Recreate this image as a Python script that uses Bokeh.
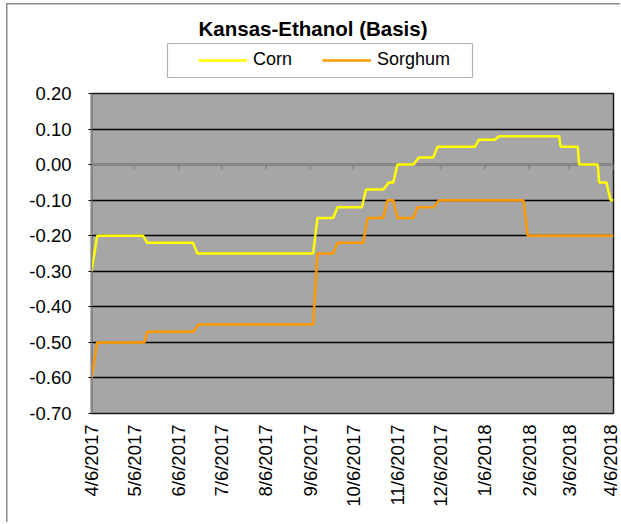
import math
import pandas as pd
from bokeh.plotting import figure
from bokeh.layouts import column
from bokeh.models import (Range1d, FixedTicker, NumeralTickFormatter, Span, Legend,
                          LegendItem, ColumnDataSource, Label, BoxAnnotation)
from bokeh.embed import file_html
from bokeh.resources import INLINE

# ---------------- data ----------------
corn_dates = ["2017-04-06", "2017-04-10", "2017-05-12", "2017-05-15", "2017-06-16", "2017-06-19",
              "2017-09-08", "2017-09-11", "2017-09-22", "2017-09-25", "2017-10-12", "2017-10-15",
              "2017-10-27", "2017-10-31", "2017-11-03", "2017-11-06", "2017-11-17", "2017-11-21",
              "2017-12-01", "2017-12-04", "2017-12-30", "2018-01-02", "2018-01-13", "2018-01-16",
              "2018-02-27", "2018-02-28", "2018-03-12", "2018-03-13", "2018-03-26", "2018-03-27",
              "2018-04-01", "2018-04-04", "2018-04-06"]
corn_values = [-0.30, -0.20, -0.20, -0.22, -0.22, -0.25,
               -0.25, -0.15, -0.15, -0.12, -0.12, -0.07,
               -0.07, -0.05, -0.05, 0.00, 0.00, 0.02,
               0.02, 0.05, 0.05, 0.07, 0.07, 0.08,
               0.08, 0.05, 0.05, 0.00, 0.00, -0.05,
               -0.05, -0.10, -0.10]

sorghum_dates = ["2017-04-06", "2017-04-10", "2017-05-13", "2017-05-15", "2017-06-16", "2017-06-20",
                 "2017-09-08", "2017-09-11", "2017-09-22", "2017-09-25", "2017-10-13", "2017-10-16",
                 "2017-10-27", "2017-10-30", "2017-11-03", "2017-11-06", "2017-11-17", "2017-11-20",
                 "2017-12-01", "2017-12-05", "2018-02-02", "2018-02-05", "2018-04-06"]
sorghum_values = [-0.60, -0.50, -0.50, -0.47, -0.47, -0.45,
                  -0.45, -0.25, -0.25, -0.22, -0.22, -0.15,
                  -0.15, -0.10, -0.10, -0.15, -0.15, -0.12,
                  -0.12, -0.10, -0.10, -0.20, -0.20]

tick_dates = ["2017-04-06", "2017-05-06", "2017-06-06", "2017-07-06", "2017-08-06", "2017-09-06",
              "2017-10-06", "2017-11-06", "2017-12-06", "2018-01-06", "2018-02-06", "2018-03-06",
              "2018-04-06"]
tick_labels = ["4/6/2017", "5/6/2017", "6/6/2017", "7/6/2017", "8/6/2017", "9/6/2017",
               "10/6/2017", "11/6/2017", "12/6/2017", "1/6/2018", "2/6/2018", "3/6/2018",
               "4/6/2018"]
y_ticks = [-0.7, -0.6, -0.5, -0.4, -0.3, -0.2, -0.1, 0.0, 0.1, 0.2]

title_text = "Kansas-Ethanol (Basis)"
series_names = ["Corn", "Sorghum"]
series_colors = ["#FFFF00", "#FF9900"]

FONT = "Liberation Sans"
W = 620
HEAD_H = 82
MAIN_H = 440
LEFT = 91
RIGHT = 7

# ---------------- header (title + legend) ----------------
# header x data units are page pixels, same frame edges as the chart below
head = figure(width=W, height=HEAD_H, output_backend="svg", toolbar_location=None,
              x_range=Range1d(LEFT, W - RIGHT), y_range=Range1d(0, HEAD_H),
              x_axis_location=None, y_axis_location=None,
              min_border_left=LEFT, min_border_right=RIGHT,
              min_border_top=0, min_border_bottom=0,
              background_fill_color=None, border_fill_color=None)
head.outline_line_color = None
head.grid.visible = False

head.add_layout(Label(x=312.5, y=HEAD_H - 28, text=title_text, text_align="center",
                      text_baseline="middle", text_font=FONT, text_font_size="20.5px",
                      text_font_style="bold", text_color="black"))

head.add_layout(BoxAnnotation(left=167, right=472, bottom=HEAD_H - 77, top=HEAD_H - 43,
                              fill_color="white", fill_alpha=1.0,
                              line_color="black", line_width=1.2))

# legend proxies (not drawn: a single NaN point)
lc = head.line(x=[float("nan")], y=[float("nan")], line_color=series_colors[0], line_width=2.5)
ls = head.line(x=[float("nan")], y=[float("nan")], line_color=series_colors[1], line_width=2.5)
legend = Legend(items=[LegendItem(label=series_names[0], renderers=[lc]),
                       LegendItem(label=series_names[1], renderers=[ls])],
                orientation="horizontal", location=(198 - LEFT, HEAD_H - 70), padding=0, margin=0,
                spacing=30, glyph_width=49, glyph_height=20, label_height=20,
                label_standoff=6, border_line_color=None, background_fill_alpha=0,
                label_text_font=FONT, label_text_font_size="18px", label_text_color="black")
head.add_layout(legend)

# ---------------- main chart ----------------
tick_dt = pd.to_datetime(tick_dates)
tick_ms = [int(t.value // 10**6) for t in tick_dt]

p = figure(width=W, height=MAIN_H, x_axis_type="datetime", output_backend="svg",
           toolbar_location=None,
           x_range=Range1d(start=tick_dt[0], end=tick_dt[-1]),
           y_range=Range1d(start=y_ticks[0], end=y_ticks[-1]),
           min_border_left=LEFT, min_border_right=RIGHT, min_border_top=11, min_border_bottom=109,
           background_fill_color="#A6A6A6", border_fill_color=None)

p.outline_line_color = "#1a1a1a"
p.outline_line_width = 1.5

p.xgrid.grid_line_color = None
p.ygrid.ticker = FixedTicker(ticks=y_ticks)
p.ygrid.grid_line_color = "black"
p.ygrid.grid_line_width = 1.4

p.yaxis.ticker = FixedTicker(ticks=y_ticks)
p.yaxis.formatter = NumeralTickFormatter(format="0.00")
p.yaxis.axis_line_color = "#8c8c8c"
p.yaxis.axis_line_width = 1.5
p.yaxis.major_tick_out = 3
p.yaxis.major_tick_in = 0
p.yaxis.major_tick_line_color = "black"
p.yaxis.minor_tick_line_color = None
p.yaxis.major_label_standoff = 17
p.yaxis.major_label_text_font = FONT
p.yaxis.major_label_text_font_size = "18.5px"
p.yaxis.major_label_text_color = "black"

p.xaxis.ticker = FixedTicker(ticks=tick_ms)
p.xaxis.major_label_overrides = {ms: lab for ms, lab in zip(tick_ms, tick_labels)}
p.xaxis.major_label_orientation = math.pi / 2
p.xaxis.axis_line_color = None
p.xaxis.major_tick_line_color = None
p.xaxis.minor_tick_line_color = None
p.xaxis.major_label_standoff = 5
p.xaxis.major_label_text_font = FONT
p.xaxis.major_label_text_font_size = "18.5px"
p.xaxis.major_label_text_color = "black"

# date axis line crossing at 0, with its tick marks
p.add_layout(Span(location=0, dimension="width", line_color="#8c8c8c", line_width=2,
                  level="underlay"))
p.segment(x0=tick_dt, y0=[0] * len(tick_dt), x1=tick_dt, y1=[-0.014] * len(tick_dt),
          line_color="#8c8c8c", line_width=2, level="underlay")

src_c = ColumnDataSource(dict(x=pd.to_datetime(corn_dates), y=corn_values))
src_s = ColumnDataSource(dict(x=pd.to_datetime(sorghum_dates), y=sorghum_values))
p.line("x", "y", source=src_c, line_color=series_colors[0], line_width=2.5)
p.line("x", "y", source=src_s, line_color=series_colors[1], line_width=2.5)

chart_border = ("linear-gradient(#8c8c8c, #8c8c8c) 6px 3px / 1.5px 100% no-repeat, "
                "linear-gradient(#8c8c8c, #8c8c8c) 6px 3px / 100% 1.5px no-repeat, #ffffff")
layout = column(head, p, spacing=0, styles={"background": chart_border})

open("out.html", "w").write(file_html(layout, INLINE))
